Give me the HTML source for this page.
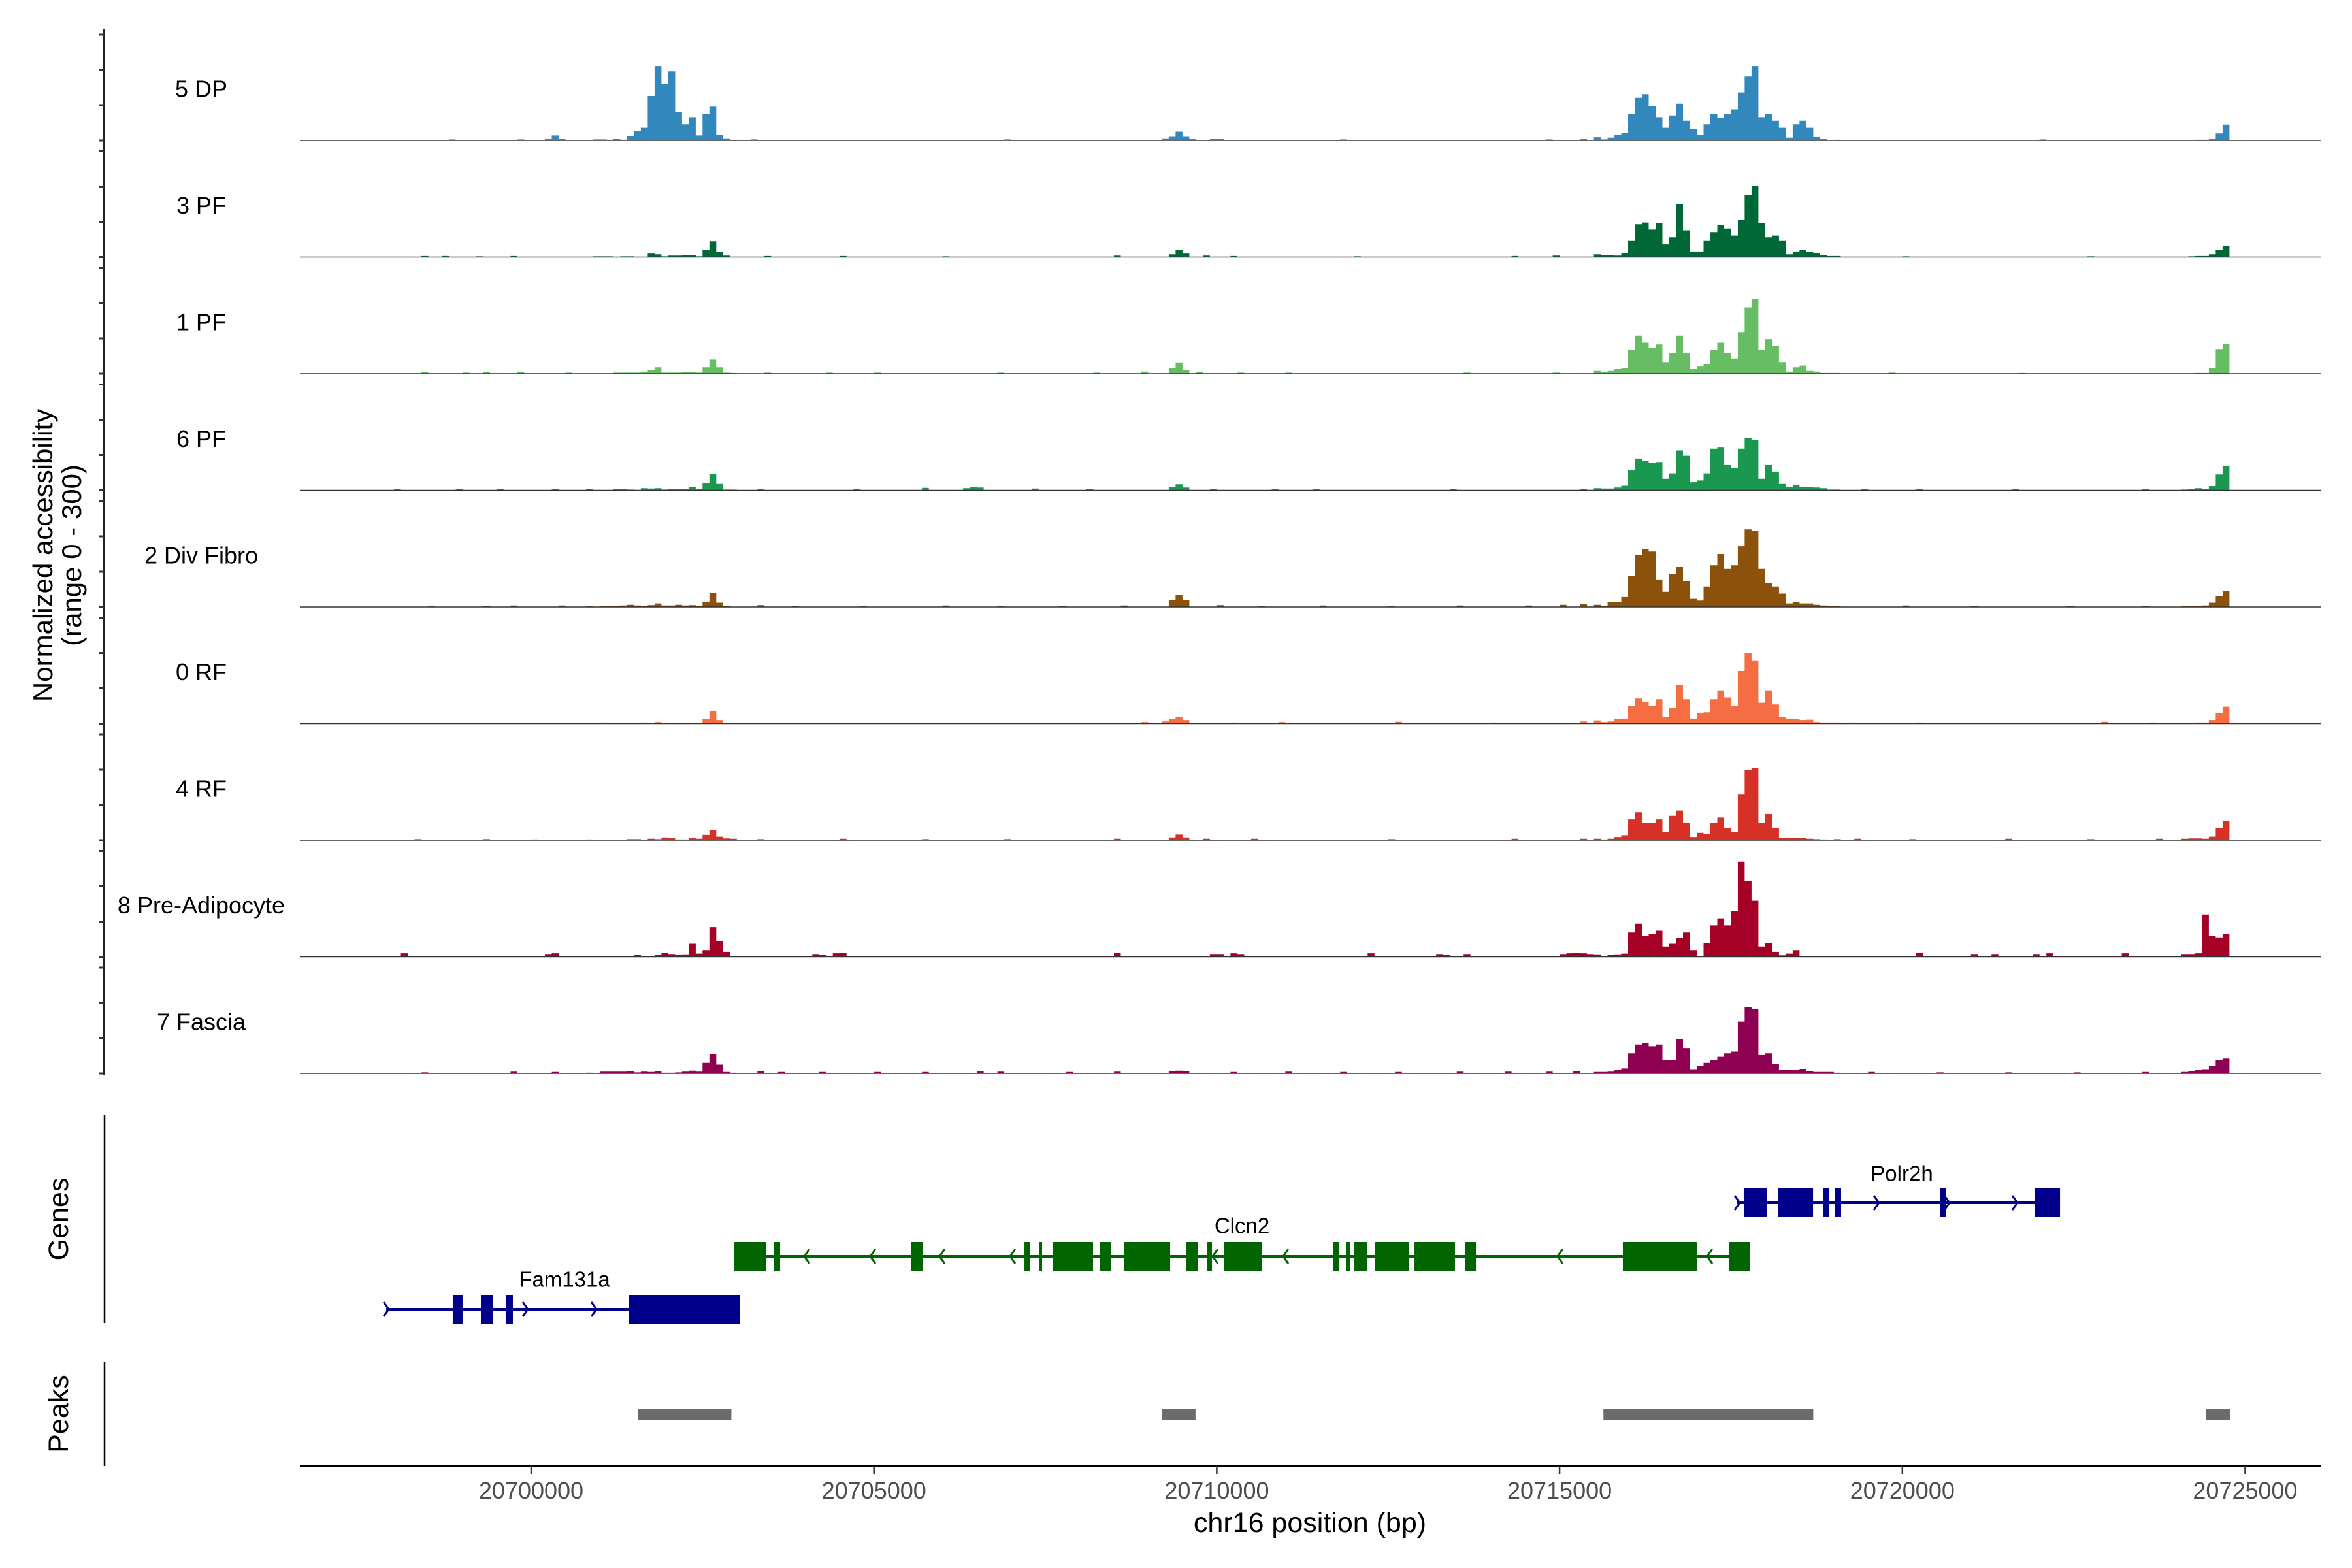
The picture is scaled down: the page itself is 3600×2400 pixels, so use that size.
<!DOCTYPE html>
<html><head><meta charset="utf-8"><style>
html,body{margin:0;padding:0;background:#fff;}
svg{display:block;font-family:"Liberation Sans",Arial,sans-serif;}
</style></head><body>
<svg id="chart" width="3600" height="2400" viewBox="0 0 3600 2400" xmlns="http://www.w3.org/2000/svg">
<rect x="0" y="0" width="3600" height="2400" fill="#fff"/>
<g id="tracks"></g>
<g id="genes"></g>
<g id="peaks"></g>
<g id="axes"></g>
</svg>
<script>
// ---- data ----
const trackNames = ["5 DP","3 PF","1 PF","6 PF","2 Div Fibro","0 RF","4 RF","8 Pre-Adipocyte","7 Fascia"];
const trackColors = ["#3288bd","#006837","#66bd63","#1a9850","#8c510a","#f46d43","#d73027","#a50026","#8e0152"];
const binSize = 100;
const regionAStart = 20700800;
const covA = [
[0,3,3,2,4,2,13,26,36,126,211,161,196,81,46,66,14,74,96,16,6,2],
[1,2,2,2,1,2,2,1,1,10,8,2,4,4,5,6,2,20,45,15,4,0],
[0,0,0,0,3,3,3,3,5,10,18,3,3,3,5,4,3,18,40,18,3,2],
[3,0,0,0,4,4,2,0,6,5,6,2,3,3,3,10,4,20,46,18,2,2],
[2,0,3,3,2,4,6,4,3,5,10,4,4,6,4,5,3,15,40,12,2,0],
[2,0,0,2,0,0,2,2,3,2,4,2,1,1,2,2,2,12,35,10,2,2],
[2,0,0,0,0,0,3,3,0,4,3,8,6,2,2,6,4,15,28,10,5,4],
[0,0,0,0,0,0,0,6,0,0,6,12,8,6,7,37,9,19,84,44,14,0],
[2,0,5,5,5,5,6,3,5,4,6,2,2,3,5,8,5,30,55,25,4,2]
];
const regionBStart = 20715500;
const covB = [
[9,3,8,16,21,76,121,131,98,66,36,71,104,56,33,16,46,74,64,76,88,136,181,211,66,76,56,36,8,46,56,36,10,4,1,2],
[8,6,6,4,11,46,93,98,78,96,36,56,151,76,16,16,46,71,91,81,61,106,176,201,96,56,61,46,8,16,21,14,11,6,3,3],
[8,4,8,13,16,68,108,88,73,83,33,58,108,58,13,22,28,68,88,58,43,118,188,213,68,98,78,33,6,18,23,8,6,2,2,2],
[6,5,5,8,13,58,90,83,78,80,33,48,113,98,23,28,48,118,123,73,63,118,148,143,33,73,53,18,10,16,10,10,8,6,2,2],
[6,3,13,13,28,88,148,163,157,78,43,93,113,73,23,18,58,118,150,108,118,172,220,216,108,68,58,38,10,13,10,10,6,4,3,3],
[9,4,6,12,14,49,71,61,49,69,19,44,109,69,14,29,32,69,94,74,49,149,199,179,59,94,54,19,14,12,10,11,4,3,3,3],
[4,2,4,9,14,59,79,49,49,59,24,69,84,49,9,21,17,49,64,34,24,129,199,204,49,74,34,7,6,7,6,4,3,2,1,3],
[7,1,6,7,9,69,94,59,64,74,29,37,54,69,19,0,39,89,109,89,129,270,215,159,29,39,14,4,9,19,2,0,0,0,0,0],
[4,4,5,10,14,57,82,87,77,82,37,37,97,72,12,22,30,37,47,57,62,147,187,182,52,57,27,10,10,10,13,7,4,4,4,2]
];
const regionCStart = 20724070;
const covC = [
[0,0,2,2,4,20,45],
[0,2,3,3,8,20,32],
[0,0,2,2,15,70,85],
[2,4,6,4,12,45,68],
[2,2,3,4,12,30,46],
[2,2,3,3,10,30,48],
[4,5,5,4,10,35,55],
[8,8,10,120,60,55,65],
[4,6,10,12,22,38,42]
];
const extraPos = [
[20698800,20699800,20700200,20700300,20700400,20703200,20706900,20709200,20709300,20709400,20709500,20709600,20709900,20710000,20711800,20714800,20715300,20722000],
[20698400,20698700,20699200,20699700,20703400,20704500,20706000,20708500,20709300,20709400,20709500,20709800,20710200,20712000,20714300,20714900,20720000,20722700],
[20698400,20699000,20699300,20699800,20700500,20703400,20704300,20705000,20706800,20708200,20708900,20709300,20709400,20709500,20709700,20710300,20711000,20713600,20714900,20719800,20721700],
[20698000,20698900,20699500,20700300,20703300,20704700,20705700,20706300,20706400,20706500,20707300,20708100,20709300,20709400,20709500,20709900,20710800,20711400,20713400,20715300,20719400,20720200,20721600,20723500],
[20698500,20699300,20699700,20700400,20703300,20703800,20704800,20706000,20706800,20707700,20708600,20709300,20709400,20709500,20710000,20710600,20711500,20712500,20713500,20714500,20715000,20715300,20720000,20721000,20722400,20723500],
[20698700,20699800,20701000,20703300,20704800,20706000,20707500,20708900,20709200,20709300,20709400,20709500,20710200,20710900,20712600,20714000,20715300,20719200,20720200,20722900,20723600],
[20698300,20699300,20700000,20703300,20704500,20705700,20706900,20708500,20709300,20709400,20709500,20709800,20710500,20712500,20714300,20715300,20719300,20720100,20721500,20722700,20723700],
[20698100,20700200,20700300,20704100,20704200,20704400,20704500,20708500,20709900,20710000,20710200,20710300,20712200,20713200,20713300,20713600,20715000,20715100,20715200,20715300,20715400,20720200,20721000,20721300,20721900,20722100,20723200],
[20698400,20699700,20700300,20703300,20703600,20704200,20705000,20705700,20706500,20706800,20707800,20708500,20709300,20709400,20709500,20710200,20711000,20711800,20712600,20713500,20714200,20714800,20715200,20719500,20720500,20721500,20722500,20723500]
];
const extraVal = [
[3,3,5,14,4,3,3,6,12,25,12,5,4,4,3,3,4,3],
[3,3,2,3,3,3,2,4,8,20,10,4,3,2,3,4,2,2],
[4,3,4,4,3,3,3,3,3,3,6,15,32,10,5,3,3,3,3,3,2],
[3,3,3,3,3,3,7,6,10,8,5,4,10,17,8,4,3,3,4,4,4,3,3,3],
[3,3,4,4,5,3,3,4,3,3,4,20,35,20,5,3,4,3,4,4,6,8,4,3,3,3],
[2,2,3,2,2,2,2,4,6,12,19,10,3,4,5,3,6,3,3,5,3],
[3,3,2,3,4,3,3,4,8,16,8,4,4,3,4,4,4,3,4,3,4],
[10,8,10,8,6,10,12,12,8,8,10,8,10,8,6,8,8,10,12,10,8,12,8,8,8,10,10],
[3,5,4,6,4,4,4,4,6,5,4,5,6,8,6,4,5,4,4,5,5,5,6,4,3,3,3,4]
];
const xTicks = [20700000,20705000,20710000,20715000,20720000,20725000];
const yTickValues = [0,100,200,300];
// genes (bp)
const geneNames = ["Fam131a","Clcn2","Polr2h"];
const geneStrand = ["+","-","+"];
const geneStart = [20697885,20702964,20717591];
const geneEnd = [20703049,20717772,20722299];
const geneExonStarts = [
[20698856,20699266,20699628,20701420],
[20702964,20703545,20705546,20707195,20707414,20707604,20708300,20708643,20709558,20709863,20710101,20711702,20711883,20712007,20712312,20712884,20713627,20715923,20717477],
[20717686,20718191,20718849,20719011,20720545,20721936]
];
const geneExonEnds = [
[20698999,20699438,20699733,20703049],
[20703431,20703631,20705708,20707280,20707452,20708195,20708462,20709320,20709729,20709930,20710654,20711788,20711940,20712188,20712798,20713474,20713780,20717000,20717772],
[20718020,20718697,20718935,20719106,20720631,20722299]
];
const geneArrows = [
[20697885,20699914,20700915],
[20704021,20704984,20705994,20707023,20709034,20709977,20711006,20715008,20717190],
[20717591,20719621,20720650,20721641]
];
const peakStarts = [20701560,20709200,20715640,20724424];
const peakEnds = [20702920,20709690,20718700,20724777];

// ---- scales ----
const NS="http://www.w3.org/2000/svg";
const svg=document.getElementById('chart');
function X(bp){return 813+(bp-20700000)*0.10494;}
const plotL=459, plotR=3552;
const base0=215, trackGap=178.5, maxVal=300, trackH=162;
function Y(k,v){return base0+k*trackGap - v/maxVal*trackH;}
function mk(tag,attrs,parent){const e=document.createElementNS(NS,tag);for(const k in attrs)e.setAttribute(k,attrs[k]);parent.appendChild(e);return e;}

// ---- coverage ----
const gT=document.getElementById('tracks');
for(let k=0;k<trackNames.length;k++){
  const segs=[];
  function add(bp,v){segs.push([bp,v]);}
  covA[k].forEach((v,i)=>add(regionAStart+i*binSize,v));
  covB[k].forEach((v,i)=>add(regionBStart+i*binSize,v));
  covC[k].forEach((v,i)=>add(regionCStart+i*binSize,v));
  extraPos[k].forEach((p,i)=>add(p,extraVal[k][i]));
  let d="";
  const yb=Y(k,0);
  segs.forEach(([s,v])=>{if(v<=0)return;
    const x0=X(s),x1=X(s+binSize),yt=Y(k,Math.min(v,maxVal));
    d+=`M${x0.toFixed(1)},${yb}L${x0.toFixed(1)},${yt.toFixed(1)}L${x1.toFixed(1)},${yt.toFixed(1)}L${x1.toFixed(1)},${yb}Z`;});
  const p=mk('path',{d:d,fill:trackColors[k]},gT);
  
  
  const bl=mk('line',{x1:plotL,x2:plotR,y1:yb,y2:yb,stroke:'#333',"stroke-width":1.6},gT);
  
  
  const t=mk('text',{x:308,y:yb-79,"font-size":36,"text-anchor":"middle","dominant-baseline":"central",fill:'#000'},gT);
  t.textContent=trackNames[k];
  
  
}

// ---- axes ----
const gA=document.getElementById('axes');
let l=mk('line',{x1:159,x2:159,y1:45,y2:Y(8,0)+2,stroke:'#222',"stroke-width":4},gA);


for(let k=0;k<trackNames.length;k++){
  yTickValues.forEach(v=>{const y=Y(k,v);
    const tk=mk('line',{x1:151,x2:159,y1:y,y2:y,stroke:'#333',"stroke-width":3},gA);
    
    });
}
let yt=mk('text',{transform:'translate(80,850) rotate(-90)',"font-size":42,"text-anchor":"middle",fill:'#000'},gA);
yt.textContent="Normalized accessibility";


let yt2=mk('text',{transform:'translate(124,850) rotate(-90)',"font-size":42,"text-anchor":"middle",fill:'#000'},gA);
yt2.textContent="(range 0 - 300)";



l=mk('line',{x1:160,x2:160,y1:1706,y2:2025,stroke:'#000',"stroke-width":2.5},gA);


l=mk('line',{x1:160,x2:160,y1:2084,y2:2244,stroke:'#000',"stroke-width":2.5},gA);


let gl=mk('text',{transform:'translate(104,1866) rotate(-90)',"font-size":43,"text-anchor":"middle",fill:'#000'},gA);
gl.textContent="Genes";


let pl=mk('text',{transform:'translate(104,2164) rotate(-90)',"font-size":43,"text-anchor":"middle",fill:'#000'},gA);
pl.textContent="Peaks";



l=mk('line',{x1:plotL,x2:plotR,y1:2244,y2:2244,stroke:'#000',"stroke-width":3.5},gA);


xTicks.forEach(t=>{const x=X(t);
  const tk=mk('line',{x1:x,x2:x,y1:2244,y2:2256,stroke:'#333',"stroke-width":2.5},gA);
  
  
  const tl=mk('text',{x:x,y:2294,"font-size":36,"text-anchor":"middle",fill:'#4d4d4d'},gA);
  tl.textContent=String(t);
  
  });
let xt=mk('text',{x:2005,y:2345,"font-size":43,"text-anchor":"middle",fill:'#000'},gA);
xt.textContent="chr16 position (bp)";



// ---- genes ----
const gG=document.getElementById('genes');
const geneY=[2004,1923,1841];
const geneCol=["#00008b","#006400","#00008b"];
const labelPos=[[864,1958],[1901,1876],[2911,1796]];
for(let g=0;g<geneNames.length;g++){
  const y=geneY[g],c=geneCol[g];
  const gg=mk('g',{},gG);
  
  
  mk('line',{x1:X(geneStart[g]),x2:X(geneEnd[g]),y1:y,y2:y,stroke:c,"stroke-width":4},gg);
  geneExonStarts[g].forEach((s,i)=>{const e=geneExonEnds[g][i];
    const r=mk('rect',{x:X(s),y:y-22,width:Math.max(X(e)-X(s),3),height:44,fill:c},gg);
    
    });
  geneArrows[g].forEach(a=>{const x=X(a);const dir=geneStrand[g]=="+"?1:-1;
    const ar=mk('polyline',{points:`${x-4*dir},${y-11} ${x+4*dir},${y} ${x-4*dir},${y+11}`,fill:'none',stroke:c,"stroke-width":3},gg);
    
    });
  const t=mk('text',{x:labelPos[g][0],y:labelPos[g][1],"font-size":33,"text-anchor":"middle","dominant-baseline":"central",fill:'#000'},gg);
  t.textContent=geneNames[g];
  
  
}
// ---- peaks ----
const gP=document.getElementById('peaks');
peakStarts.forEach((s,i)=>{const r=mk('rect',{x:X(s),y:2156,width:X(peakEnds[i])-X(s),height:17,fill:'#6b6b6b'},gP);
  
  });
</script>
</body></html>
